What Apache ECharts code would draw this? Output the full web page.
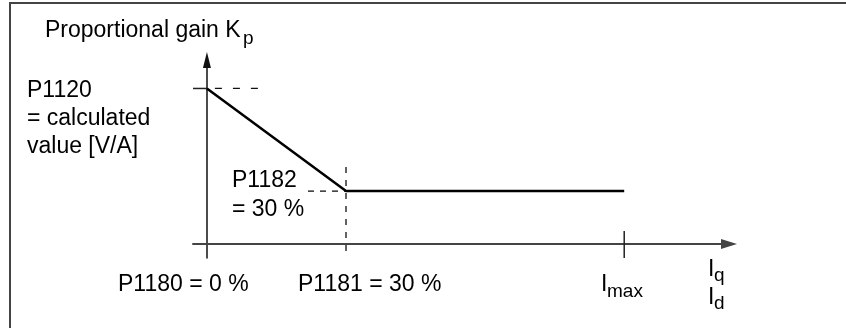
<!DOCTYPE html>
<html>
<head>
<meta charset="utf-8">
<script src="https://cdn.jsdelivr.net/npm/echarts@6/dist/echarts.min.js"></script>
<style>
  html, body { margin: 0; padding: 0; background: #fff; }
  #chart { width: 846px; height: 328px; }
</style>
</head>
<body>
<div id="chart"></div>
<script>
// ---- data (schematic units: x = current in %, y = gain in % of P1120) ----
const currentPoints = [0, 30, 90];          // P1180 = 0 %, P1181 = 30 %, Imax
const gainKp = [100, 34, 34];               // P1120 value, P1182 level, P1182 level
const tickLabelsX = ['P1180 = 0 %', 'P1181 = 30 %', 'I', 'max'];
const axisTitleY = ['Proportional gain K', 'p'];
const axisTitleX = ['I', 'q', 'I', 'd'];
const labelP1120 = ['P1120', '= calculated', 'value [V/A]'];
const labelP1182 = ['P1182', '= 30 %'];
const guideP1120X = [0, 13];      // x extent of dashed guide at the P1120 level
const guideP1182X = [21.8, 30];   // x extent of dashed guide at the P1182 level
const guideP1181Y = [49.5, -9];   // y extent of dashed vertical guide at P1181
const tickP1120X = [-3, 0];       // short solid tick on the y axis
const tickImaxY = [-9, 8.4];      // tick mark on the x axis at Imax
const xRange = [-3, 112.6];
const yRange = [-9, 118.3];

const chart = echarts.init(document.getElementById('chart'), null, { renderer: 'canvas' });
const FONT = "'Liberation Sans', Arial, Helvetica, sans-serif";
const TXT = '#000';
const BIG = 23, SUB = 19;

function txt(text, x, y, size, align) {
  return { type: 'text', x: x, y: y, silent: true,
    style: { text: text, fill: TXT, font: size + 'px ' + FONT, textAlign: align || 'left', textVerticalAlign: 'middle' } };
}

const kpData = currentPoints.map((x, i) => [x, gainKp[i]]);

const option = {
  animation: false,
  backgroundColor: '#fff',
  grid: { left: 193, right: 117, top: 60, bottom: 70 },
  xAxis: {
    type: 'value', min: xRange[0], max: xRange[1],
    axisLine: { show: true, onZero: true, symbol: ['none', 'triangle'], symbolSize: [10, 16],
      lineStyle: { color: '#444', width: 2 } },
    axisTick: { show: false }, axisLabel: { show: false }, splitLine: { show: false }
  },
  yAxis: {
    type: 'value', min: yRange[0], max: yRange[1],
    axisLine: { show: true, onZero: true, symbol: ['none', 'triangle'], symbolSize: [8, 16],
      lineStyle: { color: '#111', width: 1.5 } },
    axisTick: { show: false }, axisLabel: { show: false }, splitLine: { show: false }
  },
  series: [
    { type: 'line', data: kpData, symbol: 'none', clip: false,
      lineStyle: { color: '#000', width: 2.5 }, z: 5 },
    { type: 'line', data: [[guideP1120X[0], gainKp[0]], [guideP1120X[1], gainKp[0]]], symbol: 'none', clip: false,
      lineStyle: { color: '#111', width: 1.3, type: [7, 11], dashOffset: 10 } },
    { type: 'line', data: [[tickP1120X[0], gainKp[0]], [tickP1120X[1], gainKp[0]]], symbol: 'none', clip: false,
      lineStyle: { color: '#222', width: 1.5 } },
    { type: 'line', data: [[guideP1182X[0], gainKp[1]], [guideP1182X[1], gainKp[1]]], symbol: 'none', clip: false,
      lineStyle: { color: '#111', width: 1.3, type: [6, 6] } },
    { type: 'line', data: [[currentPoints[1], guideP1181Y[0]], [currentPoints[1], guideP1181Y[1]]], symbol: 'none', clip: false,
      lineStyle: { color: '#111', width: 1.3, type: [6, 7] } },
    { type: 'line', data: [[currentPoints[2], tickImaxY[0]], [currentPoints[2], tickImaxY[1]]], symbol: 'none', clip: false,
      lineStyle: { color: '#222', width: 1.5 } }
  ],
  graphic: [
    { type: 'polyline', silent: true, shape: { points: [[10, 328], [10, 3], [846, 3]] },
      style: { stroke: '#444', lineWidth: 2, fill: null } },
    txt(axisTitleY[0], 45, 31, BIG),
    txt(axisTitleY[1], 243, 39, SUB),
    txt(labelP1120[0], 27, 91, BIG),
    txt(labelP1120[1], 27, 119, BIG),
    txt(labelP1120[2], 27, 147, BIG),
    txt(labelP1182[0], 232, 181, BIG),
    txt(labelP1182[1], 232, 210, BIG),
    txt(tickLabelsX[0], 118, 285, BIG),
    txt(tickLabelsX[1], 298, 285, BIG),
    txt(tickLabelsX[2], 601, 285, BIG),
    txt(tickLabelsX[3], 607, 292, SUB),
    txt(axisTitleX[0], 708, 270, BIG),
    txt(axisTitleX[1], 714, 276, SUB),
    txt(axisTitleX[2], 708, 298, BIG),
    txt(axisTitleX[3], 714, 304, SUB)
  ]
};
chart.setOption(option);
</script>
</body>
</html>
